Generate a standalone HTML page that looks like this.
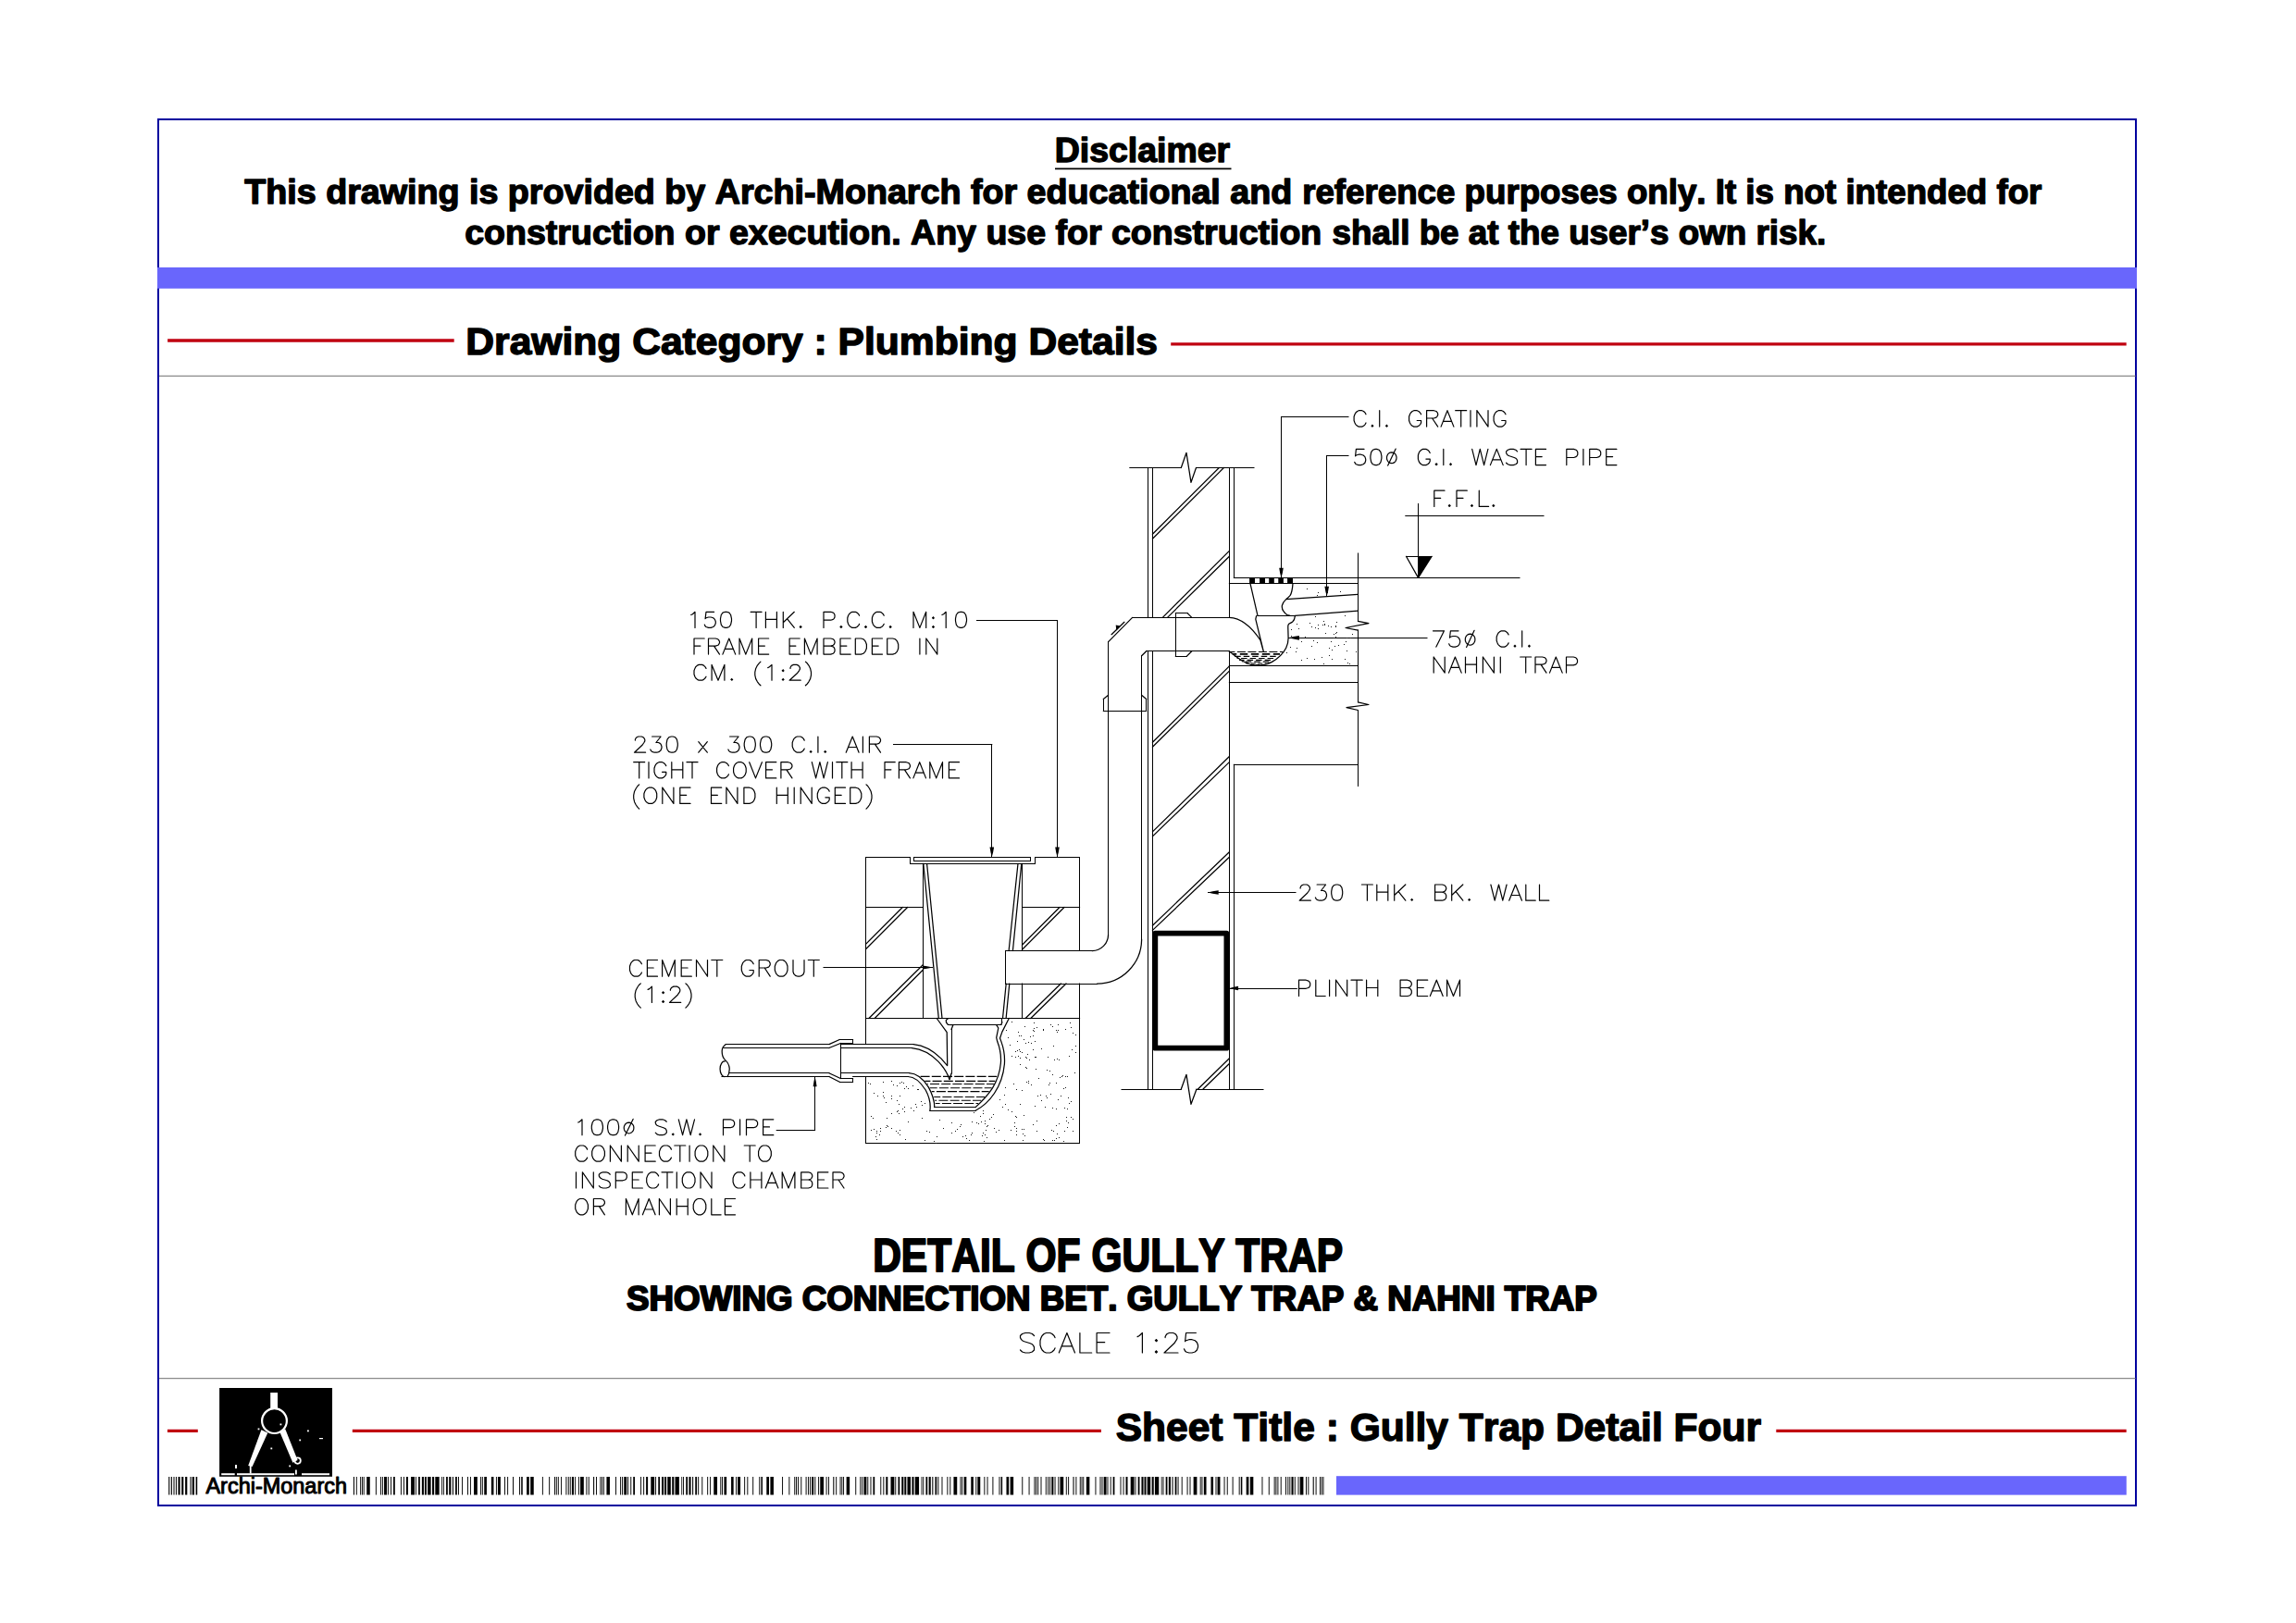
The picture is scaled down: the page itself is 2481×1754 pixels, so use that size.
<!DOCTYPE html>
<html lang="en"><head><meta charset="utf-8"><title>Gully Trap Detail Four</title>
<style>html,body{margin:0;padding:0;background:#fff}body{width:2481px;height:1754px;overflow:hidden;font-family:"Liberation Sans",sans-serif}</style></head>
<body>
<svg width="2481" height="1754" viewBox="0 0 2481 1754" font-family="'Liberation Sans', sans-serif" style="display:block;font-kerning:none">
<rect width="2481" height="1754" fill="#fff"/>
<rect x="171" y="129" width="2137" height="1498" fill="none" stroke="#00009e" stroke-width="2"/>
<rect x="170" y="289" width="2139" height="22.8" fill="#6966fc"/>
<rect x="1444" y="1595.2" width="853.8" height="20.4" fill="#6966fc"/>
<path d="M172 406.4H2307.5M172 1489.6H2307.5" stroke="#8a8a8a" stroke-width="1.1" fill="none"/>
<path d="M181.1 368H490.7M1265.2 371.8H2297.7M180.9 1546.3H213.8M380.8 1546.3H1189.9M1919.3 1546.3H2297.7" stroke="#c00010" stroke-width="3.3" stroke-linecap="butt" fill="none"/>
<text transform="translate(1139.80 175.00) scale(1.0142 1)" font-size="36.91" font-weight="bold" fill="#000" stroke="#000" stroke-width="1.4" stroke-linejoin="round">Disclaimer</text>
<text transform="translate(264.28 220.30) scale(1.0051 1)" font-size="37.48" font-weight="bold" fill="#000" stroke="#000" stroke-width="1.4" stroke-linejoin="round">This drawing is provided by Archi-Monarch for educational and</text>
<text transform="translate(1407.18 220.30) scale(0.9795 1)" font-size="37.48" font-weight="bold" fill="#000" stroke="#000" stroke-width="1.4" stroke-linejoin="round">reference purposes only. It is not intended for</text>
<text transform="translate(502.23 264.30) scale(1.0021 1)" font-size="37.48" font-weight="bold" fill="#000" stroke="#000" stroke-width="1.4" stroke-linejoin="round">construction or execution. Any use for construction</text>
<text transform="translate(1439.61 264.30) scale(0.9819 1)" font-size="37.48" font-weight="bold" fill="#000" stroke="#000" stroke-width="1.4" stroke-linejoin="round">shall be at the user’s own risk.</text>
<text transform="translate(503.35 383.20) scale(1.0485 1)" font-size="40.63" font-weight="bold" fill="#000" stroke="#000" stroke-width="1.4" stroke-linejoin="round">Drawing Category : Plumbing Details</text>
<text transform="translate(943.15 1373.50) scale(0.8633 1)" font-size="49.27" font-weight="bold" fill="#000" stroke="#000" stroke-width="2.0" stroke-linejoin="round">DETAIL OF GULLY TRAP</text>
<text transform="translate(676.94 1415.90) scale(1.0110 1)" font-size="36.34" font-weight="bold" fill="#000" stroke="#000" stroke-width="2.0" stroke-linejoin="round">SHOWING CONNECTION BET. GULLY TRAP &amp; NAHNI TRAP</text>
<text transform="translate(1205.67 1557.10) scale(1.0189 1)" font-size="41.77" font-weight="bold" fill="#000" stroke="#000" stroke-width="1.4" stroke-linejoin="round">Sheet Title : Gully Trap Detail Four</text>
<path d="M1140 182.4H1330.5" stroke="#000" stroke-width="1.6"/>
<text transform="translate(222.45 1614.00) scale(1.0125 1)" font-size="23.18" font-weight="normal" fill="#000" stroke="#000" stroke-width="1.0" stroke-linejoin="round">Archi-Monarch</text>
<rect x="237.1" y="1500" width="121.9" height="95.8" fill="#000"/>
<g fill="#fff" stroke="none">
<rect x="292.2" y="1505" width="7.8" height="17"/>
<polygon points="282.4,1545.2 289.3,1548.4 272.6,1585 268.2,1584"/>
<polygon points="302.3,1547.6 308.3,1544.6 321.6,1578 316.4,1580.8"/>
<rect x="269.8" y="1584" width="1.8" height="8.5"/>
<rect x="319" y="1588.5" width="1.8" height="5"/>
<rect x="239.2" y="1592.2" width="14.5" height="2"/><rect x="256" y="1592.2" width="62" height="2"/><rect x="326" y="1592.2" width="30" height="2"/>
<rect x="302.5" y="1538.5" width="1.8" height="1.8"/>
<rect x="278.6" y="1543.5" width="1.8" height="1.8"/>
<rect x="332" y="1545.5" width="1.8" height="1.8"/>
<rect x="323.3" y="1555.5" width="1.8" height="1.8"/>
<rect x="292.4" y="1564.5" width="1.8" height="1.8"/>
<rect x="312.3" y="1583.5" width="1.8" height="1.8"/>
<rect x="254.2" y="1583.5" width="1.8" height="1.8"/>
<rect x="345" y="1554" width="4" height="1.2"/><rect x="254" y="1583" width="2" height="4"/>
</g>
<circle cx="296.5" cy="1535.6" r="13.4" fill="none" stroke="#fff" stroke-width="2.2"/>
<circle cx="321.6" cy="1578.6" r="3.2" fill="none" stroke="#fff" stroke-width="1.8"/>
<path d="M381.88 1596V1615.5H382.94V1596ZM384.82 1596V1615.5H385.76V1596ZM389.17 1596V1615.5H390.11V1596ZM390.94 1596V1615.5H391.88V1596ZM392.70 1596V1615.5H393.64V1596ZM396.23 1596V1615.5H399.75V1596ZM405.87 1596V1615.5H406.81V1596ZM410.93 1596V1615.5H411.87V1596ZM412.92 1596V1615.5H413.87V1596ZM415.04 1596V1615.5H417.98V1596ZM418.92 1596V1615.5H419.86V1596ZM422.10 1596V1615.5H423.04V1596ZM425.04 1596V1615.5H426.80V1596ZM432.92 1596V1615.5H433.86V1596ZM435.97 1596V1615.5H436.91V1596ZM438.91 1596V1615.5H440.91V1596ZM444.09 1596V1615.5H447.97V1596ZM448.91 1596V1615.5H449.85V1596ZM452.08 1596V1615.5H453.85V1596ZM455.85 1596V1615.5H457.96V1596ZM458.90 1596V1615.5H460.90V1596ZM462.08 1596V1615.5H465.61V1596ZM467.02 1596V1615.5H469.13V1596ZM470.31 1596V1615.5H474.66V1596ZM477.13 1596V1615.5H477.95V1596ZM478.89 1596V1615.5H479.83V1596ZM482.07 1596V1615.5H483.83V1596ZM485.24 1596V1615.5H487.36V1596ZM488.89 1596V1615.5H489.95V1596ZM492.06 1596V1615.5H493.83V1596ZM495.00 1596V1615.5H495.94V1596ZM499.12 1596V1615.5H500.06V1596ZM505.00 1596V1615.5H505.94V1596ZM507.94 1596V1615.5H508.88V1596ZM512.05 1596V1615.5H515.82V1596ZM519.11 1596V1615.5H520.05V1596ZM520.87 1596V1615.5H521.81V1596ZM523.23 1596V1615.5H525.93V1596ZM530.87 1596V1615.5H533.46V1596ZM535.93 1596V1615.5H536.87V1596ZM537.92 1596V1615.5H540.86V1596ZM544.98 1596V1615.5H545.92V1596ZM548.16 1596V1615.5H549.10V1596ZM554.03 1596V1615.5H554.98V1596ZM561.09 1596V1615.5H562.03V1596ZM563.21 1596V1615.5H564.74V1596ZM569.09 1596V1615.5H571.79V1596ZM573.20 1596V1615.5H576.73V1596ZM585.90 1596V1615.5H586.84V1596ZM593.19 1596V1615.5H594.13V1596ZM599.07 1596V1615.5H600.01V1596ZM600.84 1596V1615.5H601.78V1596ZM602.84 1596V1615.5H603.78V1596ZM606.13 1596V1615.5H607.07V1596ZM611.42 1596V1615.5H612.36V1596ZM613.77 1596V1615.5H614.71V1596ZM615.77 1596V1615.5H616.71V1596ZM617.89 1596V1615.5H620.00V1596ZM621.18 1596V1615.5H622.12V1596ZM624.94 1596V1615.5H625.88V1596ZM627.06 1596V1615.5H630.82V1596ZM633.41 1596V1615.5H634.35V1596ZM635.76 1596V1615.5H636.70V1596ZM641.08 1596V1615.5H642.14V1596ZM644.02 1596V1615.5H644.96V1596ZM648.37 1596V1615.5H649.31V1596ZM650.14 1596V1615.5H651.08V1596ZM651.90 1596V1615.5H652.84V1596ZM655.43 1596V1615.5H658.95V1596ZM665.07 1596V1615.5H666.01V1596ZM670.13 1596V1615.5H671.07V1596ZM672.12 1596V1615.5H673.07V1596ZM674.24 1596V1615.5H677.18V1596ZM678.12 1596V1615.5H679.06V1596ZM681.30 1596V1615.5H682.24V1596ZM684.24 1596V1615.5H686.00V1596ZM692.12 1596V1615.5H693.06V1596ZM695.17 1596V1615.5H696.11V1596ZM698.11 1596V1615.5H700.11V1596ZM703.29 1596V1615.5H707.17V1596ZM708.11 1596V1615.5H709.05V1596ZM711.28 1596V1615.5H713.05V1596ZM715.05 1596V1615.5H717.16V1596ZM718.10 1596V1615.5H720.10V1596ZM721.28 1596V1615.5H724.81V1596ZM726.22 1596V1615.5H728.33V1596ZM729.51 1596V1615.5H733.86V1596ZM736.33 1596V1615.5H737.15V1596ZM738.09 1596V1615.5H739.03V1596ZM741.27 1596V1615.5H743.03V1596ZM744.44 1596V1615.5H746.56V1596ZM748.09 1596V1615.5H749.15V1596ZM751.26 1596V1615.5H753.03V1596ZM754.20 1596V1615.5H755.14V1596ZM758.32 1596V1615.5H759.26V1596ZM764.20 1596V1615.5H765.14V1596ZM767.14 1596V1615.5H768.08V1596ZM771.25 1596V1615.5H775.02V1596ZM778.31 1596V1615.5H779.25V1596ZM780.07 1596V1615.5H781.01V1596ZM782.43 1596V1615.5H785.13V1596ZM790.07 1596V1615.5H792.66V1596ZM795.13 1596V1615.5H796.07V1596ZM797.12 1596V1615.5H800.06V1596ZM804.18 1596V1615.5H805.12V1596ZM807.36 1596V1615.5H808.30V1596ZM813.23 1596V1615.5H814.18V1596ZM820.29 1596V1615.5H821.23V1596ZM822.41 1596V1615.5H823.94V1596ZM828.29 1596V1615.5H830.99V1596ZM832.40 1596V1615.5H835.93V1596ZM845.10 1596V1615.5H846.04V1596ZM852.39 1596V1615.5H853.33V1596ZM858.27 1596V1615.5H859.21V1596ZM860.04 1596V1615.5H860.98V1596ZM862.04 1596V1615.5H862.98V1596ZM865.33 1596V1615.5H866.27V1596ZM870.62 1596V1615.5H871.56V1596ZM872.97 1596V1615.5H873.91V1596ZM874.97 1596V1615.5H875.91V1596ZM877.09 1596V1615.5H879.20V1596ZM880.38 1596V1615.5H881.32V1596ZM884.14 1596V1615.5H885.08V1596ZM886.26 1596V1615.5H890.02V1596ZM892.61 1596V1615.5H893.55V1596ZM894.96 1596V1615.5H895.90V1596ZM900.28 1596V1615.5H901.34V1596ZM903.22 1596V1615.5H904.16V1596ZM907.57 1596V1615.5H908.51V1596ZM909.34 1596V1615.5H910.28V1596ZM911.10 1596V1615.5H912.04V1596ZM914.63 1596V1615.5H918.15V1596ZM924.27 1596V1615.5H925.21V1596ZM929.33 1596V1615.5H930.27V1596ZM931.32 1596V1615.5H932.27V1596ZM933.44 1596V1615.5H936.38V1596ZM937.32 1596V1615.5H938.26V1596ZM940.50 1596V1615.5H941.44V1596ZM943.44 1596V1615.5H945.20V1596ZM951.32 1596V1615.5H952.26V1596ZM954.37 1596V1615.5H955.31V1596ZM957.31 1596V1615.5H959.31V1596ZM962.49 1596V1615.5H966.37V1596ZM967.31 1596V1615.5H968.25V1596ZM970.48 1596V1615.5H972.25V1596ZM974.25 1596V1615.5H976.36V1596ZM977.30 1596V1615.5H979.30V1596ZM980.48 1596V1615.5H984.01V1596ZM985.42 1596V1615.5H987.53V1596ZM988.71 1596V1615.5H993.06V1596ZM995.53 1596V1615.5H996.35V1596ZM997.29 1596V1615.5H998.23V1596ZM1000.47 1596V1615.5H1002.23V1596ZM1003.64 1596V1615.5H1005.76V1596ZM1007.29 1596V1615.5H1008.35V1596ZM1010.46 1596V1615.5H1012.23V1596ZM1013.40 1596V1615.5H1014.34V1596ZM1017.52 1596V1615.5H1018.46V1596ZM1023.40 1596V1615.5H1024.34V1596ZM1026.34 1596V1615.5H1027.28V1596ZM1030.45 1596V1615.5H1034.22V1596ZM1037.51 1596V1615.5H1038.45V1596ZM1039.27 1596V1615.5H1040.21V1596ZM1041.63 1596V1615.5H1044.33V1596ZM1049.27 1596V1615.5H1051.86V1596ZM1054.33 1596V1615.5H1055.27V1596ZM1056.32 1596V1615.5H1059.26V1596ZM1063.38 1596V1615.5H1064.32V1596ZM1066.56 1596V1615.5H1067.50V1596ZM1072.43 1596V1615.5H1073.38V1596ZM1079.49 1596V1615.5H1080.43V1596ZM1081.61 1596V1615.5H1083.14V1596ZM1087.49 1596V1615.5H1090.19V1596ZM1091.60 1596V1615.5H1095.13V1596ZM1104.30 1596V1615.5H1105.24V1596ZM1111.59 1596V1615.5H1112.53V1596ZM1117.47 1596V1615.5H1118.41V1596ZM1119.24 1596V1615.5H1120.18V1596ZM1121.24 1596V1615.5H1122.18V1596ZM1124.53 1596V1615.5H1125.47V1596ZM1129.82 1596V1615.5H1130.76V1596ZM1132.17 1596V1615.5H1133.11V1596ZM1134.17 1596V1615.5H1135.11V1596ZM1136.29 1596V1615.5H1138.40V1596ZM1139.58 1596V1615.5H1140.52V1596ZM1143.34 1596V1615.5H1144.28V1596ZM1145.46 1596V1615.5H1149.22V1596ZM1151.81 1596V1615.5H1152.75V1596ZM1154.16 1596V1615.5H1155.10V1596ZM1159.48 1596V1615.5H1160.54V1596ZM1162.42 1596V1615.5H1163.36V1596ZM1166.77 1596V1615.5H1167.71V1596ZM1168.54 1596V1615.5H1169.48V1596ZM1170.30 1596V1615.5H1171.24V1596ZM1173.83 1596V1615.5H1177.35V1596ZM1183.47 1596V1615.5H1184.41V1596ZM1188.53 1596V1615.5H1189.47V1596ZM1190.52 1596V1615.5H1191.47V1596ZM1192.64 1596V1615.5H1195.58V1596ZM1196.52 1596V1615.5H1197.46V1596ZM1199.70 1596V1615.5H1200.64V1596ZM1202.64 1596V1615.5H1204.40V1596ZM1210.52 1596V1615.5H1211.46V1596ZM1213.57 1596V1615.5H1214.51V1596ZM1216.51 1596V1615.5H1218.51V1596ZM1221.69 1596V1615.5H1225.57V1596ZM1226.51 1596V1615.5H1227.45V1596ZM1229.68 1596V1615.5H1231.45V1596ZM1233.45 1596V1615.5H1235.56V1596ZM1236.50 1596V1615.5H1238.50V1596ZM1239.68 1596V1615.5H1243.21V1596ZM1244.62 1596V1615.5H1246.73V1596ZM1247.91 1596V1615.5H1252.26V1596ZM1254.73 1596V1615.5H1255.55V1596ZM1256.49 1596V1615.5H1257.43V1596ZM1259.67 1596V1615.5H1261.43V1596ZM1262.84 1596V1615.5H1264.96V1596ZM1266.49 1596V1615.5H1267.55V1596ZM1269.66 1596V1615.5H1271.43V1596ZM1272.60 1596V1615.5H1273.54V1596ZM1276.72 1596V1615.5H1277.66V1596ZM1282.60 1596V1615.5H1283.54V1596ZM1285.54 1596V1615.5H1286.48V1596ZM1289.65 1596V1615.5H1293.42V1596ZM1296.71 1596V1615.5H1297.65V1596ZM1298.47 1596V1615.5H1299.41V1596ZM1300.83 1596V1615.5H1303.53V1596ZM1308.47 1596V1615.5H1311.06V1596ZM1313.53 1596V1615.5H1314.47V1596ZM1315.52 1596V1615.5H1318.46V1596ZM1322.58 1596V1615.5H1323.52V1596ZM1325.76 1596V1615.5H1326.70V1596ZM1331.63 1596V1615.5H1332.58V1596ZM1338.69 1596V1615.5H1339.63V1596ZM1340.81 1596V1615.5H1342.34V1596ZM1346.69 1596V1615.5H1349.39V1596ZM1350.80 1596V1615.5H1354.33V1596ZM1363.50 1596V1615.5H1364.44V1596ZM1370.79 1596V1615.5H1371.73V1596ZM1376.67 1596V1615.5H1377.61V1596ZM1378.44 1596V1615.5H1379.38V1596ZM1380.44 1596V1615.5H1381.38V1596ZM1383.73 1596V1615.5H1384.67V1596ZM1389.02 1596V1615.5H1389.96V1596ZM1391.37 1596V1615.5H1392.31V1596ZM1393.37 1596V1615.5H1394.31V1596ZM1395.49 1596V1615.5H1397.60V1596ZM1398.78 1596V1615.5H1399.72V1596ZM1402.54 1596V1615.5H1403.48V1596ZM1404.66 1596V1615.5H1408.42V1596ZM1411.01 1596V1615.5H1411.95V1596ZM1413.36 1596V1615.5H1414.30V1596ZM1418.68 1596V1615.5H1419.74V1596ZM1421.62 1596V1615.5H1422.56V1596ZM1425.97 1596V1615.5H1426.91V1596ZM1427.74 1596V1615.5H1428.68V1596ZM1429.50 1596V1615.5H1430.44V1596ZM182.20 1596V1615.5H183.30V1596ZM184.80 1596V1615.5H185.90V1596ZM187.50 1596V1615.5H188.50V1596ZM189.90 1596V1615.5H190.90V1596ZM192.50 1596V1615.5H194.60V1596ZM196.20 1596V1615.5H198.30V1596ZM200.10 1596V1615.5H202.30V1596ZM205.50 1596V1615.5H206.60V1596ZM207.70 1596V1615.5H209.90V1596ZM211.60 1596V1615.5H213.20V1596Z" fill="#000"/>
<g fill="none" stroke="#000" stroke-width="1" stroke-linejoin="round" stroke-linecap="butt">
<path d="M1220.8 505.5H1276.3M1292.5 505.5H1355.0M1212.0 1177.5H1276.3M1293.0 1177.5H1365.0M1240.5 505.5V667.4M1240.5 703.7V1177.0M1245.5 505.5V667.4M1245.5 703.7V1177.0M1328.5 505.5V667.4M1328.5 703.7V1177.0M1333.5 505.5V624.4M1333.5 826.3V1177.0M1333.3 624.5H1642.0M1328.4 630.5H1467.4M1467.5 598.0V671.3M1467.5 681.1V758.8M1467.5 767.5V849.5M1328.4 719.5H1467.4M1328.4 737.5H1467.4M1333.3 826.5H1467.4M1532.5 544.5V624.4M1518.8 557.5H1668.0M1519.5 601.5H1547.0M1457.0 450.5H1384.5M1384.5 450.5V624.0M1457.0 492.5H1433.7M1433.5 492.5V644.0M1542.0 689.5H1392.6M1400.0 964.5H1305.5M1401.3 1068.5H1328.4M1055.5 670.5H1142.5M1142.5 670.5V925.8M965.5 804.5H1071.8M1071.5 804.5V925.8M890.0 1045.5H1007.5M839.2 1221.5H880.6M880.5 1221.3V1164.0M1223.6 667.5H1328.4M1197.5 693.6V1010.0M1180.1 1027.5H1086.7M1086.5 1027.5V1063.0M1086.7 1063.5H1185.6M1233.5 1015.0V708.8M1238.7 703.5H1328.4M1283.1 662.5H1270.3M1270.5 662.6V709.4M1270.3 709.5H1282.2M1192.5 755.6V768.5M1192.3 768.5H1238.7M1238.5 768.5V755.6M1359.0 665.5H1399.4M1328.4 704.5H1385.8M935.5 1128.6V926.5M935.5 926.5H983.5M983.5 926.5V933.5M983.5 933.5H1118.5M1118.5 933.5V926.5M1118.5 926.5H1166.5M1166.5 926.5V1027.5M1166.5 1063.0V1235.5M1166.5 1235.5H935.5M935.5 1235.5V1163.5M987.5 926.5V930.5M987.5 930.5H1113.5M1113.5 930.5V926.5M1113.5 926.5H987.5M935.5 980.5H997.5M1104.5 980.5H1166.6M997.5 933.3V1100.5M1104.5 933.3V1027.5M1104.5 1063.0V1100.5M935.5 1100.5H1166.6M1024.4 1107.5H1081.9M1082.5 1104.5V1100.5M1028.5 1112.5V1160.0M908.5 1128.5H987.1M908.5 1132.5H985.5M908.5 1159.5H982.4M1009.8 1196.5H1054.1M921.6 1163.5H981.3M1004.9 1200.5H1054.1M784.4 1128.5H895.9M907.2 1123.5H921.6M921.5 1123.5V1127.5M921.6 1127.5H908.3M895.9 1132.5H781.8M780.0 1163.5H895.9M907.7 1169.5H921.6M921.5 1169.5V1165.5M921.6 1165.5H908.3M895.9 1159.5H787.9M908.5 1127.6V1165.4" stroke-linecap="square"/>
<path d="M1276.3 505.5L1282.0 489.3L1287.0 521.3L1292.5 505.5M1276.3 1177.0L1282.0 1161.3L1287.0 1193.3L1293.0 1177.0M1245.4 577.2L1317.3 505.5M1245.4 582.3L1322.4 505.5M1256.3 667.4L1328.4 595.4M1261.5 667.4L1328.4 601.2M1328.4 719.9L1245.4 802.3M1328.4 725.1L1245.4 807.3M1328.4 817.5L1245.4 898.9M1328.4 823.6L1245.4 903.9M1328.4 920.8L1245.4 1000.2M1328.4 926.3L1245.4 1005.4M1328.4 1143.8L1294.5 1177.0M1328.4 1149.5L1300.0 1177.0M1467.4 671.3L1478.9 673.6L1454.0 678.5L1467.4 681.1M1467.4 758.8L1478.9 761.5L1455.0 764.6L1467.4 767.5M1547.0 601.3L1532.5 624.4L1519.5 601.3M1328.4 667.4C1342.0 668.0 1354.0 680.0 1362.0 692.0L1365.3 704.0M1223.6 667.4L1197.6 693.6M1197.6 1010.0A17.5 17.5 0 0 1 1180.1 1027.5M1185.6 1063.0A48.0 48.0 0 0 0 1233.6 1015.0M1233.6 708.8L1238.7 703.7M1287.8 667.4L1283.1 662.6M1282.2 709.4L1287.8 703.7M1197.6 751.3L1192.3 755.6M1238.7 755.6L1233.6 751.3M1201.1 685.7L1214.9 672.3M1351.0 630.6L1359.0 665.4M1357.6 665.6L1356.8 669.2L1365.3 704.0M1397.0 630.6C1396.6 636.0 1396.2 640.0 1394.2 643.4C1392.5 645.5 1391.0 646.6 1389.7 647.6C1387.6 649.6 1385.9 651.5 1385.4 654.3C1385.0 657.0 1385.6 659.0 1387.0 660.6C1388.2 662.4 1389.6 663.8 1391.0 664.6L1394.0 665.4M1389.7 647.6L1467.4 642.4M1399.4 665.4L1467.4 660.2M1399.4 665.6C1399.2 668.0 1398.4 670.4 1396.7 672.0C1395.0 673.4 1393.2 673.4 1392.4 674.6C1391.6 675.6 1391.8 677.0 1391.8 678.6L1392.1 689.4C1392.2 695.0 1390.8 698.0 1389.7 700.2C1386.5 706.4 1381.0 711.6 1374.4 715.4C1369.5 717.9 1364.4 719.1 1359.0 719.2C1353.8 719.2 1348.4 717.6 1343.0 714.5C1337.6 711.3 1332.6 707.0 1328.4 704.1M997.8 933.5L1014.3 1100.5M1001.6 933.5L1018.0 1100.5M1100.0 933.3L1090.1 1027.5M1103.8 933.3L1094.4 1027.5M1087.2 1063.0L1083.5 1100.5M1090.8 1063.0L1087.1 1100.5M975.3 980.5L935.5 1020.4M980.6 980.5L935.5 1025.8M997.5 1042.5L938.9 1100.5M997.5 1048.0L945.2 1100.5M1145.0 980.5L1104.5 1021.2M1150.0 980.5L1104.5 1026.3M1146.3 1063.0L1108.1 1100.5M1152.0 1063.0L1113.8 1100.5M1012.2 1100.5L1023.2 1115.7L1023.7 1151.3M1024.4 1100.8L1022.3 1102.4L1022.5 1105.0L1024.4 1107.3M1081.9 1107.3L1082.9 1104.5M1024.4 1107.3L1030.0 1107.6L1028.0 1112.5M1028.0 1160.0L1026.2 1166.5M987.1 1128.6C997.0 1129.6 1007.5 1134.5 1016.9 1143.9L1023.6 1151.6M985.5 1132.6C995.0 1133.6 1005.4 1138.6 1013.8 1147.1C1019.0 1152.6 1023.6 1159.0 1025.9 1166.5M982.4 1159.7C990.0 1160.0 997.0 1165.0 1003.3 1174.9C1007.0 1181.6 1009.8 1189.0 1009.8 1196.6M981.3 1163.5C988.0 1163.6 994.0 1168.4 1000.2 1178.0C1003.8 1184.6 1006.0 1192.0 1004.9 1200.3M1054.1 1196.6C1062.0 1189.5 1068.5 1182.0 1072.5 1175.9C1077.5 1167.5 1080.6 1158.0 1081.4 1148.7C1082.0 1140.0 1080.6 1133.0 1077.7 1125.6L1076.7 1121.4L1078.8 1111.0L1076.7 1107.6M1054.1 1200.3C1063.0 1195.5 1069.5 1189.0 1074.5 1181.5C1080.5 1172.5 1084.4 1161.0 1085.4 1150.0C1086.0 1141.0 1084.8 1133.5 1081.9 1125.6L1080.5 1122.0L1082.9 1115.1L1090.3 1100.5M895.9 1128.6L907.2 1123.5M908.3 1127.5L895.9 1132.5M895.9 1163.5L907.7 1169.5M908.3 1165.5L895.9 1159.7M784.4 1128.6C781.6 1130.6 780.2 1132.4 780.2 1135.6C780.0 1140.0 781.0 1143.0 783.4 1145.4C786.4 1148.0 787.8 1150.6 788.2 1154.4C788.4 1158.0 787.6 1161.0 786.1 1163.5M783.4 1147.0A4.8 8.3 0 1 0 783.4 1163.5" stroke-width="1.25" stroke-linecap="round"/>
<path d="M1147 1163.5h1M1117 1114.5h1M958 1208.5h1M947 1231.5h1M1085 1183.5h1M940 1171.5h1M938 1170.5h1M1073 1204.5h1M1062 1224.5h1M1064 1226.5h1M1109 1169.5h1M1111 1168.5h1M1028 1213.5h1M1154 1213.5h1M1152 1211.5h1M1044 1230.5h1M954 1184.5h1M1012 1228.5h1M1118 1125.5h1M1103 1119.5h1M1157 1207.5h1M1138 1130.5h1M1131 1186.5h1M1162 1130.5h1M1112 1145.5h1M1040 1228.5h1M1067 1216.5h1M972 1221.5h1M1105 1225.5h1M1153 1218.5h1M946 1228.5h1M1097 1136.5h1M977 1196.5h1M975 1198.5h1M1064 1214.5h1M1001 1222.5h1M1019 1219.5h1M1086 1193.5h1M941 1221.5h1M1156 1105.5h1M1009 1233.5h1M1011 1235.5h1M1104 1220.5h1M1097 1206.5h1M1141 1216.5h1M1116 1215.5h1M955 1186.5h1M1137 1197.5h1M1104 1178.5h1M1127 1113.5h1M944 1181.5h1M989 1193.5h1M1076 1223.5h1M1091 1129.5h1M1143 1188.5h1M1139 1145.5h1M1120 1222.5h1M1050 1212.5h1M1098 1226.5h1M1127 1231.5h1M1135 1107.5h1M1117 1105.5h1M1125 1133.5h1M948 1184.5h1M1080 1188.5h1M1155 1192.5h1M1099 1125.5h1M1109 1154.5h1M1143 1113.5h1M1101 1119.5h1M1079 1221.5h1M1066 1217.5h1M1151 1163.5h1M984 1197.5h1M1083 1196.5h1M1141 1230.5h1M1059 1206.5h1M1144 1214.5h1M1062 1203.5h1M943 1208.5h1M941 1206.5h1M1145 1164.5h1M1141 1170.5h1M1037 1217.5h1M1093 1201.5h1M1064 1211.5h1M974 1169.5h1M995 1190.5h1M1135 1182.5h1M969 1173.5h1M947 1222.5h1M1162 1118.5h1M1159 1116.5h1M1148 1162.5h1M1119 1155.5h1M1142 1225.5h1M996 1194.5h1M1101 1134.5h1M1130 1184.5h1M1096 1217.5h1M1098 1219.5h1M1124 1183.5h1M1133 1172.5h1M986 1173.5h1M968 1222.5h1M1074 1219.5h1M1114 1127.5h1M1111 1126.5h1M1102 1136.5h1M1104 1137.5h1M1116 1119.5h1M1093 1104.5h1M1092 1221.5h1M963 1168.5h1M1128 1232.5h1M1153 1163.5h1M1096 1213.5h1M974 1169.5h1M972 1170.5h1M1136 1221.5h1M1110 1139.5h1M1106 1123.5h1M1118 1142.5h1M1139 1232.5h1M1155 1141.5h1M954 1169.5h1M1052 1202.5h1M1055 1213.5h1M1057 1214.5h1M954 1180.5h1M947 1224.5h1M950 1226.5h1M1086 1175.5h1M1100 1141.5h1M1097 1142.5h1M1108 1153.5h1M1107 1109.5h1M1151 1112.5h1M1158 1134.5h1M1150 1197.5h1M1159 1209.5h1M963 1184.5h1M1114 1172.5h1M1153 1198.5h1M963 1219.5h1M999 1192.5h1M1108 1127.5h1M1159 1222.5h1M957 1191.5h1M1127 1112.5h1M1121 1184.5h1M996 1208.5h1M1085 1232.5h1M1062 1200.5h1M959 1217.5h1M957 1218.5h1M1093 1141.5h1M1087 1113.5h1M1102 1193.5h1M1102 1150.5h1M1098 1177.5h1M1150 1222.5h1M1119 1142.5h1M1028 1224.5h1M981 1176.5h1M1060 1212.5h1M977 1201.5h1M1066 1229.5h1M1120 1110.5h1M1116 1113.5h1M1117 1111.5h1M1141 1113.5h1M970 1200.5h1M1111 1170.5h1M1157 1190.5h1M1098 1222.5h1M1125 1189.5h1M1120 1211.5h1M1154 1186.5h1M1098 1207.5h1M1105 1232.5h1M1157 1110.5h1M963 1187.5h1M1143 1107.5h1M990 1196.5h1M1109 1143.5h1M1122 1165.5h1M1138 1222.5h1M1061 1227.5h1M1152 1207.5h1M999 1232.5h1M1118 1195.5h1M1134 1170.5h1M1162 1137.5h1M971 1203.5h1M969 1201.5h1M1100 1115.5h1M1043 1227.5h1M1132 1142.5h1M1032 1222.5h1M1034 1220.5h1M1049 1226.5h1M1063 1233.5h1M969 1189.5h1M1106 1205.5h1M1038 1215.5h1M963 1203.5h1M1129 1196.5h1M972 1184.5h1M1107 1227.5h1M1161 1159.5h1M1015 1210.5h1M971 1193.5h1M1146 1184.5h1M1116 1134.5h1M1099 1135.5h1M1149 1233.5h1M1149 1176.5h1M1151 1175.5h1M1113 1120.5h1M958 1216.5h1M1137 1161.5h1M991 1177.5h1M951 1222.5h1M1106 1220.5h1M970 1224.5h1M972 1226.5h1M992 1177.5h1M979 1174.5h1M977 1176.5h1M978 1231.5h1M1089 1199.5h1M1071 1207.5h1M1069 1209.5h1M976 1170.5h1M1089 1121.5h1M1093 1201.5h1M1047 1232.5h1M1131 1156.5h1M1065 1221.5h1M1142 1144.5h1M1144 1145.5h1M1141 1198.5h1M1108 1142.5h1M1095 1171.5h1M1144 1229.5h1M1134 1157.5h1M987 1200.5h1M1142 1115.5h1M965 1172.5h1M951 1219.5h1M944 1220.5h1M1050 1224.5h1M1004 1223.5h1M981 1212.5h1M1137 1232.5h1M1137 1109.5h1M1102 1143.5h1M1454 693.5h1M1439 712.5h1M1406 693.5h1M1436 700.5h1M1436 708.5h1M1459 689.5h1M1434 640.5h1M1417 677.5h1M1448 639.5h1M1403 679.5h1M1456 716.5h1M1458 717.5h1M1412 711.5h1M1395 680.5h1M1410 688.5h1M1424 675.5h1M1438 677.5h1M1394 699.5h1M1417 698.5h1M1429 675.5h1M1431 675.5h1M1432 684.5h1M1423 694.5h1M1395 687.5h1M1441 685.5h1M1443 684.5h1M1439 702.5h1M1446 697.5h1M1435 676.5h1M1401 674.5h1M1430 671.5h1M1419 692.5h1M1444 683.5h1M1443 677.5h1M1424 640.5h1M1420 712.5h1M1438 693.5h1M1390 705.5h1M1406 713.5h1M1430 717.5h1M1428 710.5h1M1453 712.5h1M1412 636.5h1M1401 700.5h1M1421 666.5h1M1444 672.5h1M1421 678.5h1M1461 685.5h1M1443 676.5h1M1442 698.5h1M1400 704.5h1M1465 704.5h1M1453 665.5h1M1455 689.5h1M1431 674.5h1M1423 643.5h1M1415 673.5h1M1424 679.5h1M1455 703.5h1M1452 696.5h1M1443 688.5h1M1441 689.5h1" stroke-width="1" stroke="#1a1a1a"/>
<rect x="1248.3" y="1008.7" width="77.1" height="124" stroke-width="5.8"/>
<path d="M1476.0 447.8L1475.2 446.2L1473.5 444.5L1471.7 443.7L1468.3 443.7L1466.6 444.5L1464.8 446.2L1464.0 447.8L1463.1 450.3L1463.1 454.5L1464.0 457.0L1464.8 458.6L1466.6 460.3L1468.3 461.1L1471.7 461.1L1473.5 460.3L1475.2 458.6L1476.0 457.0M1482.9 459.5L1482.1 460.3L1482.9 461.1L1483.8 460.3L1482.9 459.5M1490.7 443.7L1490.7 461.1M1498.5 459.5L1497.6 460.3L1498.5 461.1L1499.3 460.3L1498.5 459.5M1535.6 447.8L1534.7 446.2L1533.0 444.5L1531.2 443.7L1527.8 443.7L1526.1 444.5L1524.3 446.2L1523.5 447.8L1522.6 450.3L1522.6 454.5L1523.5 457.0L1524.3 458.6L1526.1 460.3L1527.8 461.1L1531.2 461.1L1533.0 460.3L1534.7 458.6L1535.6 457.0L1535.6 454.5M1531.2 454.5L1535.6 454.5M1541.6 443.7L1541.6 461.1M1541.6 443.7L1549.4 443.7L1552.0 444.5L1552.8 445.3L1553.7 447.0L1553.7 448.6L1552.8 450.3L1552.0 451.1L1549.4 452.0L1541.6 452.0M1547.6 452.0L1553.7 461.1M1564.0 443.7L1557.1 461.1M1564.0 443.7L1570.9 461.1M1559.7 455.3L1568.3 455.3M1578.7 443.7L1578.7 461.1M1572.7 443.7L1584.7 443.7M1589.0 443.7L1589.0 461.1M1595.9 443.7L1595.9 461.1M1595.9 443.7L1608.0 461.1M1608.0 443.7L1608.0 461.1M1627.0 447.8L1626.1 446.2L1624.4 444.5L1622.7 443.7L1619.2 443.7L1617.5 444.5L1615.8 446.2L1614.9 447.8L1614.1 450.3L1614.1 454.5L1614.9 457.0L1615.8 458.6L1617.5 460.3L1619.2 461.1L1622.7 461.1L1624.4 460.3L1626.1 458.6L1627.0 457.0L1627.0 454.5M1622.7 454.5L1627.0 454.5M1474.0 485.4L1465.4 485.4L1464.6 492.8L1465.4 492.0L1468.0 491.2L1470.6 491.2L1473.1 492.0L1474.9 493.6L1475.7 496.1L1475.7 497.7L1474.9 500.2L1473.1 501.8L1470.6 502.6L1468.0 502.6L1465.4 501.8L1464.6 501.0L1463.7 499.4M1486.0 485.4L1483.4 486.3L1481.7 488.7L1480.9 492.8L1480.9 495.3L1481.7 499.4L1483.4 501.8L1486.0 502.6L1487.7 502.6L1490.3 501.8L1492.0 499.4L1492.9 495.3L1492.9 492.8L1492.0 488.7L1490.3 486.3L1487.7 485.4L1486.0 485.4M1509.1 494.7L1508.8 496.6L1508.1 498.3L1506.9 499.6L1505.4 500.4L1503.8 500.7L1502.1 500.4L1500.7 499.6L1499.5 498.3L1498.7 496.6L1498.5 494.7L1498.7 492.9L1499.5 491.2L1500.7 489.9L1502.1 489.1L1503.8 488.8L1505.4 489.1L1506.9 489.9L1508.1 491.2L1508.8 492.9L1509.1 494.7M1499.7 503.1L1508.2 485.0M1545.2 489.5L1544.4 487.9L1542.7 486.3L1540.9 485.4L1537.5 485.4L1535.8 486.3L1534.1 487.9L1533.2 489.5L1532.4 492.0L1532.4 496.1L1533.2 498.6L1534.1 500.2L1535.8 501.8L1537.5 502.6L1540.9 502.6L1542.7 501.8L1544.4 500.2L1545.2 498.6L1545.2 496.1M1540.9 496.1L1545.2 496.1M1552.1 501.0L1551.2 501.8L1552.1 502.6L1553.0 501.8L1552.1 501.0M1559.8 485.4L1559.8 502.6M1567.5 501.0L1566.7 501.8L1567.5 502.6L1568.4 501.8L1567.5 501.0M1590.7 485.4L1595.0 502.6M1599.3 485.4L1595.0 502.6M1599.3 485.4L1603.6 502.6M1607.9 485.4L1603.6 502.6M1617.3 485.4L1610.4 502.6M1617.3 485.4L1624.2 502.6M1613.0 496.9L1621.6 496.9M1639.6 487.9L1637.9 486.3L1635.3 485.4L1631.9 485.4L1629.3 486.3L1627.6 487.9L1627.6 489.5L1628.5 491.2L1629.3 492.0L1631.0 492.8L1636.2 494.5L1637.9 495.3L1638.8 496.1L1639.6 497.7L1639.6 500.2L1637.9 501.8L1635.3 502.6L1631.9 502.6L1629.3 501.8L1627.6 500.2M1649.1 485.4L1649.1 502.6M1643.1 485.4L1655.1 485.4M1659.4 485.4L1659.4 502.6M1659.4 485.4L1670.5 485.4M1659.4 493.6L1666.2 493.6M1659.4 502.6L1670.5 502.6M1692.8 485.4L1692.8 502.6M1692.8 485.4L1700.6 485.4L1703.1 486.3L1704.0 487.1L1704.8 488.7L1704.8 491.2L1704.0 492.8L1703.1 493.6L1700.6 494.5L1692.8 494.5M1710.9 485.4L1710.9 502.6M1717.7 485.4L1717.7 502.6M1717.7 485.4L1725.4 485.4L1728.0 486.3L1728.9 487.1L1729.7 488.7L1729.7 491.2L1728.9 492.8L1728.0 493.6L1725.4 494.5L1717.7 494.5M1735.7 485.4L1735.7 502.6M1735.7 485.4L1746.9 485.4M1735.7 493.6L1742.6 493.6M1735.7 502.6L1746.9 502.6M1549.8 530.2L1549.8 547.4M1549.8 530.2L1561.0 530.2M1549.8 538.3L1556.7 538.3M1566.2 545.7L1565.4 546.5L1566.2 547.4L1567.1 546.5L1566.2 545.7M1574.0 530.2L1574.0 547.4M1574.0 530.2L1585.3 530.2M1574.0 538.3L1581.0 538.3M1590.5 545.7L1589.6 546.5L1590.5 547.4L1591.3 546.5L1590.5 545.7M1598.3 530.2L1598.3 547.4M1598.3 547.4L1608.6 547.4M1613.8 545.7L1613.0 546.5L1613.8 547.4L1614.7 546.5L1613.8 545.7M1560.5 681.8L1551.9 699.1M1548.5 681.8L1560.5 681.8M1576.0 681.8L1567.4 681.8L1566.5 689.2L1567.4 688.3L1570.0 687.5L1572.6 687.5L1575.1 688.3L1576.8 690.0L1577.7 692.5L1577.7 694.1L1576.8 696.6L1575.1 698.2L1572.6 699.1L1570.0 699.1L1567.4 698.2L1566.5 697.4L1565.7 695.8M1593.9 691.1L1593.7 693.0L1592.9 694.6L1591.7 696.0L1590.3 696.8L1588.6 697.1L1587.0 696.8L1585.5 696.0L1584.3 694.6L1583.5 693.0L1583.3 691.1L1583.5 689.2L1584.3 687.6L1585.5 686.2L1587.0 685.4L1588.6 685.1L1590.3 685.4L1591.7 686.2L1592.9 687.6L1593.7 689.2L1593.9 691.1M1584.6 699.5L1593.1 681.3M1630.1 685.9L1629.2 684.2L1627.5 682.6L1625.8 681.8L1622.4 681.8L1620.7 682.6L1618.9 684.2L1618.1 685.9L1617.2 688.3L1617.2 692.5L1618.1 694.9L1618.9 696.6L1620.7 698.2L1622.4 699.1L1625.8 699.1L1627.5 698.2L1629.2 696.6L1630.1 694.9M1637.0 697.4L1636.1 698.2L1637.0 699.1L1637.8 698.2L1637.0 697.4M1644.7 681.8L1644.7 699.1M1652.4 697.4L1651.6 698.2L1652.4 699.1L1653.3 698.2L1652.4 697.4M1549.2 710.0L1549.2 727.1M1549.2 710.0L1561.2 727.1M1561.2 710.0L1561.2 727.1M1572.4 710.0L1565.5 727.1M1572.4 710.0L1579.2 727.1M1568.1 721.4L1576.7 721.4M1583.5 710.0L1583.5 727.1M1595.5 710.0L1595.5 727.1M1583.5 718.1L1595.5 718.1M1602.4 710.0L1602.4 727.1M1602.4 710.0L1614.4 727.1M1614.4 710.0L1614.4 727.1M1621.3 710.0L1621.3 727.1M1648.7 710.0L1648.7 727.1M1642.7 710.0L1654.7 710.0M1659.0 710.0L1659.0 727.1M1659.0 710.0L1666.7 710.0L1669.3 710.8L1670.2 711.6L1671.0 713.2L1671.0 714.8L1670.2 716.5L1669.3 717.3L1666.7 718.1L1659.0 718.1M1665.0 718.1L1671.0 727.1M1681.3 710.0L1674.5 727.1M1681.3 710.0L1688.2 727.1M1677.0 721.4L1685.6 721.4M1692.5 710.0L1692.5 727.1M1692.5 710.0L1700.2 710.0L1702.8 710.8L1703.6 711.6L1704.5 713.2L1704.5 715.7L1703.6 717.3L1702.8 718.1L1700.2 718.9L1692.5 718.9M1405.1 960.1L1405.1 959.2L1405.9 957.6L1406.8 956.8L1408.5 956.0L1412.0 956.0L1413.7 956.8L1414.5 957.6L1415.4 959.2L1415.4 960.9L1414.5 962.5L1412.8 965.0L1404.2 973.2L1416.3 973.2M1423.1 956.0L1432.6 956.0L1427.5 962.5L1430.0 962.5L1431.8 963.4L1432.6 964.2L1433.5 966.7L1433.5 968.3L1432.6 970.8L1430.9 972.4L1428.3 973.2L1425.7 973.2L1423.1 972.4L1422.3 971.6L1421.4 970.0M1443.8 956.0L1441.2 956.8L1439.5 959.2L1438.7 963.4L1438.7 965.8L1439.5 970.0L1441.2 972.4L1443.8 973.2L1445.5 973.2L1448.1 972.4L1449.9 970.0L1450.7 965.8L1450.7 963.4L1449.9 959.2L1448.1 956.8L1445.5 956.0L1443.8 956.0M1477.4 956.0L1477.4 973.2M1471.4 956.0L1483.4 956.0M1487.8 956.0L1487.8 973.2M1499.8 956.0L1499.8 973.2M1487.8 964.2L1499.8 964.2M1506.7 956.0L1506.7 973.2M1518.8 956.0L1506.7 967.5M1511.0 963.4L1518.8 973.2M1525.6 971.6L1524.8 972.4L1525.6 973.2L1526.5 972.4L1525.6 971.6M1550.6 956.0L1550.6 973.2M1550.6 956.0L1558.4 956.0L1561.0 956.8L1561.8 957.6L1562.7 959.2L1562.7 960.9L1561.8 962.5L1561.0 963.4L1558.4 964.2M1550.6 964.2L1558.4 964.2L1561.0 965.0L1561.8 965.8L1562.7 967.5L1562.7 970.0L1561.8 971.6L1561.0 972.4L1558.4 973.2L1550.6 973.2M1568.7 956.0L1568.7 973.2M1580.8 956.0L1568.7 967.5M1573.0 963.4L1580.8 973.2M1587.7 971.6L1586.8 972.4L1587.7 973.2L1588.5 972.4L1587.7 971.6M1610.9 956.0L1615.2 973.2M1619.5 956.0L1615.2 973.2M1619.5 956.0L1623.8 973.2M1628.1 956.0L1623.8 973.2M1637.6 956.0L1630.7 973.2M1637.6 956.0L1644.5 973.2M1633.3 967.5L1641.9 967.5M1648.8 956.0L1648.8 973.2M1648.8 973.2L1659.2 973.2M1663.5 956.0L1663.5 973.2M1663.5 973.2L1673.8 973.2M1403.5 1059.2L1403.5 1076.5M1403.5 1059.2L1411.3 1059.2L1413.9 1060.1L1414.8 1060.9L1415.7 1062.5L1415.7 1065.0L1414.8 1066.7L1413.9 1067.5L1411.3 1068.3L1403.5 1068.3M1421.8 1059.2L1421.8 1076.5M1421.8 1076.5L1432.2 1076.5M1436.6 1059.2L1436.6 1076.5M1443.5 1059.2L1443.5 1076.5M1443.5 1059.2L1455.7 1076.5M1455.7 1059.2L1455.7 1076.5M1466.1 1059.2L1466.1 1076.5M1460.0 1059.2L1472.2 1059.2M1476.6 1059.2L1476.6 1076.5M1488.8 1059.2L1488.8 1076.5M1476.6 1067.5L1488.8 1067.5M1513.1 1059.2L1513.1 1076.5M1513.1 1059.2L1521.0 1059.2L1523.6 1060.1L1524.4 1060.9L1525.3 1062.5L1525.3 1064.2L1524.4 1065.8L1523.6 1066.7L1521.0 1067.5M1513.1 1067.5L1521.0 1067.5L1523.6 1068.3L1524.4 1069.1L1525.3 1070.8L1525.3 1073.3L1524.4 1074.9L1523.6 1075.7L1521.0 1076.5L1513.1 1076.5M1531.4 1059.2L1531.4 1076.5M1531.4 1059.2L1542.7 1059.2M1531.4 1067.5L1538.3 1067.5M1531.4 1076.5L1542.7 1076.5M1552.3 1059.2L1545.3 1076.5M1552.3 1059.2L1559.2 1076.5M1547.9 1070.8L1556.6 1070.8M1563.6 1059.2L1563.6 1076.5M1563.6 1059.2L1570.5 1076.5M1577.5 1059.2L1570.5 1076.5M1577.5 1059.2L1577.5 1076.5M746.7 664.5L748.4 663.7L751.0 661.3L751.0 678.4M771.6 661.3L763.0 661.3L762.1 668.6L763.0 667.8L765.6 667.0L768.2 667.0L770.7 667.8L772.4 669.4L773.3 671.8L773.3 673.5L772.4 675.9L770.7 677.5L768.2 678.4L765.6 678.4L763.0 677.5L762.1 676.7L761.3 675.1M783.6 661.3L781.0 662.1L779.3 664.5L778.5 668.6L778.5 671.0L779.3 675.1L781.0 677.5L783.6 678.4L785.3 678.4L787.9 677.5L789.6 675.1L790.5 671.0L790.5 668.6L789.6 664.5L787.9 662.1L785.3 661.3L783.6 661.3M817.1 661.3L817.1 678.4M811.1 661.3L823.1 661.3M827.4 661.3L827.4 678.4M839.4 661.3L839.4 678.4M827.4 669.4L839.4 669.4M846.3 661.3L846.3 678.4M858.3 661.3L846.3 672.7M850.5 668.6L858.3 678.4M865.1 676.7L864.3 677.5L865.1 678.4L866.0 677.5L865.1 676.7M890.0 661.3L890.0 678.4M890.0 661.3L897.7 661.3L900.3 662.1L901.2 662.9L902.0 664.5L902.0 667.0L901.2 668.6L900.3 669.4L897.7 670.2L890.0 670.2M908.9 676.7L908.0 677.5L908.9 678.4L909.8 677.5L908.9 676.7M928.6 665.3L927.8 663.7L926.1 662.1L924.4 661.3L920.9 661.3L919.2 662.1L917.5 663.7L916.6 665.3L915.8 667.8L915.8 671.8L916.6 674.3L917.5 675.9L919.2 677.5L920.9 678.4L924.4 678.4L926.1 677.5L927.8 675.9L928.6 674.3M935.5 676.7L934.6 677.5L935.5 678.4L936.4 677.5L935.5 676.7M955.2 665.3L954.4 663.7L952.7 662.1L951.0 661.3L947.5 661.3L945.8 662.1L944.1 663.7L943.2 665.3L942.4 667.8L942.4 671.8L943.2 674.3L944.1 675.9L945.8 677.5L947.5 678.4L951.0 678.4L952.7 677.5L954.4 675.9L955.2 674.3M962.1 676.7L961.3 677.5L962.1 678.4L963.0 677.5L962.1 676.7M987.0 661.3L987.0 678.4M987.0 661.3L993.9 678.4M1000.7 661.3L993.9 678.4M1000.7 661.3L1000.7 678.4M1008.5 667.0L1007.6 667.8L1008.5 668.6L1009.3 667.8L1008.5 667.0M1008.5 676.7L1007.6 677.5L1008.5 678.4L1009.3 677.5L1008.5 676.7M1017.9 664.5L1019.6 663.7L1022.2 661.3L1022.2 678.4M1037.6 661.3L1035.1 662.1L1033.3 664.5L1032.5 668.6L1032.5 671.0L1033.3 675.1L1035.1 677.5L1037.6 678.4L1039.4 678.4L1041.9 677.5L1043.6 675.1L1044.5 671.0L1044.5 668.6L1043.6 664.5L1041.9 662.1L1039.4 661.3L1037.6 661.3M750.0 690.0L750.0 707.1M750.0 690.0L761.2 690.0M750.0 698.1L756.9 698.1M765.5 690.0L765.5 707.1M765.5 690.0L773.2 690.0L775.8 690.8L776.6 691.6L777.5 693.2L777.5 694.8L776.6 696.5L775.8 697.3L773.2 698.1L765.5 698.1M771.5 698.1L777.5 707.1M787.8 690.0L780.9 707.1M787.8 690.0L794.7 707.1M783.5 701.4L792.1 701.4M799.0 690.0L799.0 707.1M799.0 690.0L805.8 707.1M812.7 690.0L805.8 707.1M812.7 690.0L812.7 707.1M819.6 690.0L819.6 707.1M819.6 690.0L830.7 690.0M819.6 698.1L826.4 698.1M819.6 707.1L830.7 707.1M853.1 690.0L853.1 707.1M853.1 690.0L864.2 690.0M853.1 698.1L859.9 698.1M853.1 707.1L864.2 707.1M869.4 690.0L869.4 707.1M869.4 690.0L876.2 707.1M883.1 690.0L876.2 707.1M883.1 690.0L883.1 707.1M890.0 690.0L890.0 707.1M890.0 690.0L897.7 690.0L900.3 690.8L901.2 691.6L902.0 693.2L902.0 694.8L901.2 696.5L900.3 697.3L897.7 698.1M890.0 698.1L897.7 698.1L900.3 698.9L901.2 699.7L902.0 701.4L902.0 703.8L901.2 705.4L900.3 706.2L897.7 707.1L890.0 707.1M908.0 690.0L908.0 707.1M908.0 690.0L919.2 690.0M908.0 698.1L914.9 698.1M908.0 707.1L919.2 707.1M924.3 690.0L924.3 707.1M924.3 690.0L930.4 690.0L932.9 690.8L934.6 692.4L935.5 694.0L936.4 696.5L936.4 700.5L935.5 703.0L934.6 704.6L932.9 706.2L930.4 707.1L924.3 707.1M942.4 690.0L942.4 707.1M942.4 690.0L953.5 690.0M942.4 698.1L949.2 698.1M942.4 707.1L953.5 707.1M958.7 690.0L958.7 707.1M958.7 690.0L964.7 690.0L967.3 690.8L969.0 692.4L969.9 694.0L970.7 696.5L970.7 700.5L969.9 703.0L969.0 704.6L967.3 706.2L964.7 707.1L958.7 707.1M993.9 690.0L993.9 707.1M1000.8 690.0L1000.8 707.1M1000.8 690.0L1012.8 707.1M1012.8 690.0L1012.8 707.1M763.0 722.4L762.1 720.8L760.4 719.1L758.7 718.4L755.2 718.4L753.5 719.1L751.7 720.8L750.9 722.4L750.0 724.8L750.0 728.8L750.9 731.2L751.7 732.8L753.5 734.4L755.2 735.2L758.7 735.2L760.4 734.4L762.1 732.8L763.0 731.2M769.1 718.4L769.1 735.2M769.1 718.4L776.0 735.2M782.9 718.4L776.0 735.2M782.9 718.4L782.9 735.2M790.7 733.6L789.9 734.4L790.7 735.2L791.6 734.4L790.7 733.6M821.9 715.1L820.2 716.8L818.4 719.1L816.7 722.4L815.8 726.4L815.8 729.6L816.7 733.6L818.4 736.8L820.2 739.2L821.9 740.8M829.7 721.6L831.4 720.8L834.0 718.4L834.0 735.2M846.2 724.0L845.3 724.8L846.2 725.6L847.0 724.8L846.2 724.0M846.2 733.6L845.3 734.4L846.2 735.2L847.0 734.4L846.2 733.6M854.0 722.4L854.0 721.6L854.8 720.0L855.7 719.1L857.4 718.4L860.9 718.4L862.6 719.1L863.5 720.0L864.4 721.6L864.4 723.1L863.5 724.8L861.8 727.2L853.1 735.2L865.2 735.2M870.4 715.1L872.2 716.8L873.9 719.1L875.6 722.4L876.5 726.4L876.5 729.6L875.6 733.6L873.9 736.8L872.2 739.2L870.4 740.8M686.4 800.1L686.4 799.2L687.2 797.6L688.1 796.8L689.8 796.0L693.3 796.0L695.0 796.8L695.9 797.6L696.8 799.2L696.8 800.9L695.9 802.5L694.2 805.0L685.5 813.2L697.6 813.2M704.6 796.0L714.1 796.0L708.9 802.5L711.5 802.5L713.2 803.4L714.1 804.2L715.0 806.7L715.0 808.3L714.1 810.8L712.4 812.4L709.8 813.2L707.2 813.2L704.6 812.4L703.7 811.6L702.8 810.0M725.4 796.0L722.8 796.8L721.0 799.2L720.2 803.4L720.2 805.8L721.0 810.0L722.8 812.4L725.4 813.2L727.1 813.2L729.7 812.4L731.4 810.0L732.3 805.8L732.3 803.4L731.4 799.2L729.7 796.8L727.1 796.0L725.4 796.0M754.8 801.7L764.3 813.2M764.3 801.7L754.8 813.2M788.6 796.0L798.1 796.0L792.9 802.5L795.5 802.5L797.3 803.4L798.1 804.2L799.0 806.7L799.0 808.3L798.1 810.8L796.4 812.4L793.8 813.2L791.2 813.2L788.6 812.4L787.7 811.6L786.9 810.0M809.4 796.0L806.8 796.8L805.1 799.2L804.2 803.4L804.2 805.8L805.1 810.0L806.8 812.4L809.4 813.2L811.1 813.2L813.7 812.4L815.5 810.0L816.3 805.8L816.3 803.4L815.5 799.2L813.7 796.8L811.1 796.0L809.4 796.0M826.7 796.0L824.1 796.8L822.4 799.2L821.5 803.4L821.5 805.8L822.4 810.0L824.1 812.4L826.7 813.2L828.5 813.2L831.1 812.4L832.8 810.0L833.7 805.8L833.7 803.4L832.8 799.2L831.1 796.8L828.5 796.0L826.7 796.0M869.2 800.1L868.3 798.4L866.6 796.8L864.9 796.0L861.4 796.0L859.7 796.8L857.9 798.4L857.1 800.1L856.2 802.5L856.2 806.7L857.1 809.1L857.9 810.8L859.7 812.4L861.4 813.2L864.9 813.2L866.6 812.4L868.3 810.8L869.2 809.1M876.1 811.6L875.3 812.4L876.1 813.2L877.0 812.4L876.1 811.6M883.9 796.0L883.9 813.2M891.7 811.6L890.8 812.4L891.7 813.2L892.6 812.4L891.7 811.6M921.2 796.0L914.2 813.2M921.2 796.0L928.1 813.2M916.8 807.5L925.5 807.5M932.4 796.0L932.4 813.2M939.4 796.0L939.4 813.2M939.4 796.0L947.2 796.0L949.8 796.8L950.6 797.6L951.5 799.2L951.5 800.9L950.6 802.5L949.8 803.4L947.2 804.2L939.4 804.2M945.4 804.2L951.5 813.2M690.7 823.7L690.7 840.9M684.7 823.7L696.7 823.7M701.0 823.7L701.0 840.9M719.8 827.7L718.9 826.1L717.2 824.5L715.5 823.7L712.1 823.7L710.4 824.5L708.7 826.1L707.8 827.7L707.0 830.2L707.0 834.3L707.8 836.8L708.7 838.4L710.4 840.0L712.1 840.9L715.5 840.9L717.2 840.0L718.9 838.4L719.8 836.8L719.8 834.3M715.5 834.3L719.8 834.3M725.8 823.7L725.8 840.9M737.8 823.7L737.8 840.9M725.8 831.8L737.8 831.8M748.0 823.7L748.0 840.9M742.0 823.7L754.0 823.7M787.4 827.7L786.6 826.1L784.8 824.5L783.1 823.7L779.7 823.7L778.0 824.5L776.3 826.1L775.4 827.7L774.6 830.2L774.6 834.3L775.4 836.8L776.3 838.4L778.0 840.0L779.7 840.9L783.1 840.9L784.8 840.0L786.6 838.4L787.4 836.8M797.7 823.7L796.0 824.5L794.3 826.1L793.4 827.7L792.6 830.2L792.6 834.3L793.4 836.8L794.3 838.4L796.0 840.0L797.7 840.9L801.1 840.9L802.8 840.0L804.5 838.4L805.4 836.8L806.2 834.3L806.2 830.2L805.4 827.7L804.5 826.1L802.8 824.5L801.1 823.7L797.7 823.7M809.7 823.7L816.5 840.9M823.4 823.7L816.5 840.9M827.6 823.7L827.6 840.9M827.6 823.7L838.8 823.7M827.6 831.8L834.5 831.8M827.6 840.9L838.8 840.9M843.9 823.7L843.9 840.9M843.9 823.7L851.6 823.7L854.2 824.5L855.0 825.3L855.9 826.9L855.9 828.6L855.0 830.2L854.2 831.0L851.6 831.8L843.9 831.8M849.9 831.8L855.9 840.9M877.3 823.7L881.6 840.9M885.9 823.7L881.6 840.9M885.9 823.7L890.1 840.9M894.4 823.7L890.1 840.9M899.5 823.7L899.5 840.9M909.8 823.7L909.8 840.9M903.8 823.7L915.8 823.7M920.1 823.7L920.1 840.9M932.1 823.7L932.1 840.9M920.1 831.8L932.1 831.8M956.0 823.7L956.0 840.9M956.0 823.7L967.2 823.7M956.0 831.8L962.9 831.8M971.4 823.7L971.4 840.9M971.4 823.7L979.2 823.7L981.7 824.5L982.6 825.3L983.4 826.9L983.4 828.6L982.6 830.2L981.7 831.0L979.2 831.8L971.4 831.8M977.4 831.8L983.4 840.9M993.7 823.7L986.9 840.9M993.7 823.7L1000.5 840.9M989.4 835.1L998.0 835.1M1004.8 823.7L1004.8 840.9M1004.8 823.7L1011.7 840.9M1018.5 823.7L1011.7 840.9M1018.5 823.7L1018.5 840.9M1025.4 823.7L1025.4 840.9M1025.4 823.7L1036.5 823.7M1025.4 831.8L1032.2 831.8M1025.4 840.9L1036.5 840.9M690.7 847.9L689.0 849.5L687.3 852.0L685.6 855.2L684.7 859.3L684.7 862.6L685.6 866.7L687.3 870.0L689.0 872.4L690.7 874.1M701.1 851.2L699.4 852.0L697.7 853.6L696.8 855.2L695.9 857.7L695.9 861.8L696.8 864.3L697.7 865.9L699.4 867.5L701.1 868.4L704.6 868.4L706.3 867.5L708.0 865.9L708.9 864.3L709.7 861.8L709.7 857.7L708.9 855.2L708.0 853.6L706.3 852.0L704.6 851.2L701.1 851.2M715.8 851.2L715.8 868.4M715.8 851.2L727.9 868.4M727.9 851.2L727.9 868.4M734.8 851.2L734.8 868.4M734.8 851.2L746.0 851.2M734.8 859.3L741.7 859.3M734.8 868.4L746.0 868.4M768.5 851.2L768.5 868.4M768.5 851.2L779.7 851.2M768.5 859.3L775.4 859.3M768.5 868.4L779.7 868.4M784.9 851.2L784.9 868.4M784.9 851.2L796.9 868.4M796.9 851.2L796.9 868.4M803.9 851.2L803.9 868.4M803.9 851.2L809.9 851.2L812.5 852.0L814.2 853.6L815.1 855.2L815.9 857.7L815.9 861.8L815.1 864.3L814.2 865.9L812.5 867.5L809.9 868.4L803.9 868.4M839.3 851.2L839.3 868.4M851.3 851.2L851.3 868.4M839.3 859.3L851.3 859.3M858.2 851.2L858.2 868.4M865.2 851.2L865.2 868.4M865.2 851.2L877.2 868.4M877.2 851.2L877.2 868.4M896.2 855.2L895.4 853.6L893.6 852.0L891.9 851.2L888.5 851.2L886.7 852.0L885.0 853.6L884.2 855.2L883.3 857.7L883.3 861.8L884.2 864.3L885.0 865.9L886.7 867.5L888.5 868.4L891.9 868.4L893.6 867.5L895.4 865.9L896.2 864.3L896.2 861.8M891.9 861.8L896.2 861.8M902.3 851.2L902.3 868.4M902.3 851.2L913.5 851.2M902.3 859.3L909.2 859.3M902.3 868.4L913.5 868.4M918.7 851.2L918.7 868.4M918.7 851.2L924.7 851.2L927.3 852.0L929.0 853.6L929.9 855.2L930.8 857.7L930.8 861.8L929.9 864.3L929.0 865.9L927.3 867.5L924.7 868.4L918.7 868.4M936.0 847.9L937.7 849.5L939.4 852.0L941.1 855.2L942.0 859.3L942.0 862.6L941.1 866.7L939.4 870.0L937.7 872.4L936.0 874.1M693.4 1041.8L692.5 1040.1L690.8 1038.4L689.1 1037.5L685.6 1037.5L683.9 1038.4L682.2 1040.1L681.4 1041.8L680.5 1044.3L680.5 1048.5L681.4 1051.0L682.2 1052.7L683.9 1054.4L685.6 1055.2L689.1 1055.2L690.8 1054.4L692.5 1052.7L693.4 1051.0M699.4 1037.5L699.4 1055.2M699.4 1037.5L710.5 1037.5M699.4 1046.0L706.2 1046.0M699.4 1055.2L710.5 1055.2M715.6 1037.5L715.6 1055.2M715.6 1037.5L722.5 1055.2M729.3 1037.5L722.5 1055.2M729.3 1037.5L729.3 1055.2M736.2 1037.5L736.2 1055.2M736.2 1037.5L747.3 1037.5M736.2 1046.0L743.1 1046.0M736.2 1055.2L747.3 1055.2M752.5 1037.5L752.5 1055.2M752.5 1037.5L764.5 1055.2M764.5 1037.5L764.5 1055.2M774.8 1037.5L774.8 1055.2M768.8 1037.5L780.8 1037.5M814.2 1041.8L813.3 1040.1L811.6 1038.4L809.9 1037.5L806.5 1037.5L804.8 1038.4L803.0 1040.1L802.2 1041.8L801.3 1044.3L801.3 1048.5L802.2 1051.0L803.0 1052.7L804.8 1054.4L806.5 1055.2L809.9 1055.2L811.6 1054.4L813.3 1052.7L814.2 1051.0L814.2 1048.5M809.9 1048.5L814.2 1048.5M820.2 1037.5L820.2 1055.2M820.2 1037.5L827.9 1037.5L830.5 1038.4L831.3 1039.2L832.2 1040.9L832.2 1042.6L831.3 1044.3L830.5 1045.1L827.9 1046.0L820.2 1046.0M826.2 1046.0L832.2 1055.2M842.5 1037.5L840.7 1038.4L839.0 1040.1L838.2 1041.8L837.3 1044.3L837.3 1048.5L838.2 1051.0L839.0 1052.7L840.7 1054.4L842.5 1055.2L845.9 1055.2L847.6 1054.4L849.3 1052.7L850.2 1051.0L851.0 1048.5L851.0 1044.3L850.2 1041.8L849.3 1040.1L847.6 1038.4L845.9 1037.5L842.5 1037.5M857.0 1037.5L857.0 1050.2L857.9 1052.7L859.6 1054.4L862.2 1055.2L863.9 1055.2L866.4 1054.4L868.2 1052.7L869.0 1050.2L869.0 1037.5M879.3 1037.5L879.3 1055.2M873.3 1037.5L885.3 1037.5M692.3 1062.9L690.5 1064.5L688.8 1067.0L687.1 1070.2L686.2 1074.3L686.2 1077.6L687.1 1081.7L688.8 1085.0L690.5 1087.4L692.3 1089.1M700.1 1069.4L701.8 1068.6L704.4 1066.1L704.4 1083.4M716.6 1071.9L715.7 1072.7L716.6 1073.5L717.5 1072.7L716.6 1071.9M716.6 1081.7L715.7 1082.5L716.6 1083.4L717.5 1082.5L716.6 1081.7M724.4 1070.2L724.4 1069.4L725.3 1067.8L726.2 1067.0L727.9 1066.1L731.4 1066.1L733.1 1067.0L734.0 1067.8L734.8 1069.4L734.8 1071.1L734.0 1072.7L732.2 1075.2L723.5 1083.4L735.7 1083.4M740.9 1062.9L742.7 1064.5L744.4 1067.0L746.1 1070.2L747.0 1074.3L747.0 1077.6L746.1 1081.7L744.4 1085.0L742.7 1087.4L740.9 1089.1M624.7 1213.0L626.4 1212.2L629.0 1209.8L629.0 1226.7M644.5 1209.8L641.9 1210.7L640.2 1213.0L639.3 1217.0L639.3 1219.5L640.2 1223.5L641.9 1225.9L644.5 1226.7L646.2 1226.7L648.8 1225.9L650.5 1223.5L651.4 1219.5L651.4 1217.0L650.5 1213.0L648.8 1210.7L646.2 1209.8L644.5 1209.8M661.8 1209.8L659.2 1210.7L657.4 1213.0L656.6 1217.0L656.6 1219.5L657.4 1223.5L659.2 1225.9L661.8 1226.7L663.5 1226.7L666.1 1225.9L667.8 1223.5L668.6 1219.5L668.6 1217.0L667.8 1213.0L666.1 1210.7L663.5 1209.8L661.8 1209.8M684.9 1218.9L684.7 1220.7L683.9 1222.4L682.7 1223.7L681.2 1224.5L679.6 1224.8L677.9 1224.5L676.4 1223.7L675.3 1222.4L674.5 1220.7L674.2 1218.9L674.5 1217.1L675.3 1215.5L676.4 1214.2L677.9 1213.4L679.6 1213.1L681.2 1213.4L682.7 1214.2L683.9 1215.5L684.7 1217.1L684.9 1218.9M675.5 1227.1L684.1 1209.4M720.3 1212.2L718.6 1210.7L716.0 1209.8L712.6 1209.8L710.0 1210.7L708.3 1212.2L708.3 1213.8L709.1 1215.5L710.0 1216.2L711.7 1217.0L716.9 1218.7L718.6 1219.5L719.5 1220.2L720.3 1221.9L720.3 1224.2L718.6 1225.9L716.0 1226.7L712.6 1226.7L710.0 1225.9L708.3 1224.2M727.2 1225.1L726.4 1225.9L727.2 1226.7L728.1 1225.9L727.2 1225.1M733.3 1209.8L737.6 1226.7M741.9 1209.8L737.6 1226.7M741.9 1209.8L746.2 1226.7M750.5 1209.8L746.2 1226.7M756.5 1225.1L755.7 1225.9L756.5 1226.7L757.4 1225.9L756.5 1225.1M781.5 1209.8L781.5 1226.7M781.5 1209.8L789.3 1209.8L791.9 1210.7L792.7 1211.5L793.6 1213.0L793.6 1215.5L792.7 1217.0L791.9 1217.9L789.3 1218.7L781.5 1218.7M799.6 1209.8L799.6 1226.7M806.5 1209.8L806.5 1226.7M806.5 1209.8L814.3 1209.8L816.8 1210.7L817.7 1211.5L818.6 1213.0L818.6 1215.5L817.7 1217.0L816.8 1217.9L814.3 1218.7L806.5 1218.7M824.6 1209.8L824.6 1226.7M824.6 1209.8L835.8 1209.8M824.6 1217.9L831.5 1217.9M824.6 1226.7L835.8 1226.7M634.6 1242.1L633.7 1240.4L632.0 1238.8L630.3 1238.0L626.8 1238.0L625.1 1238.8L623.4 1240.4L622.6 1242.1L621.7 1244.5L621.7 1248.7L622.6 1251.1L623.4 1252.8L625.1 1254.4L626.8 1255.2L630.3 1255.2L632.0 1254.4L633.7 1252.8L634.6 1251.1M644.8 1238.0L643.1 1238.8L641.4 1240.4L640.5 1242.1L639.7 1244.5L639.7 1248.7L640.5 1251.1L641.4 1252.8L643.1 1254.4L644.8 1255.2L648.3 1255.2L650.0 1254.4L651.7 1252.8L652.5 1251.1L653.4 1248.7L653.4 1244.5L652.5 1242.1L651.7 1240.4L650.0 1238.8L648.3 1238.0L644.8 1238.0M659.4 1238.0L659.4 1255.2M659.4 1238.0L671.4 1255.2M671.4 1238.0L671.4 1255.2M678.2 1238.0L678.2 1255.2M678.2 1238.0L690.2 1255.2M690.2 1238.0L690.2 1255.2M697.1 1238.0L697.1 1255.2M697.1 1238.0L708.2 1238.0M697.1 1246.2L703.9 1246.2M697.1 1255.2L708.2 1255.2M725.4 1242.1L724.5 1240.4L722.8 1238.8L721.1 1238.0L717.6 1238.0L715.9 1238.8L714.2 1240.4L713.4 1242.1L712.5 1244.5L712.5 1248.7L713.4 1251.1L714.2 1252.8L715.9 1254.4L717.6 1255.2L721.1 1255.2L722.8 1254.4L724.5 1252.8L725.4 1251.1M734.8 1238.0L734.8 1255.2M728.8 1238.0L740.8 1238.0M745.1 1238.0L745.1 1255.2M756.2 1238.0L754.5 1238.8L752.8 1240.4L751.9 1242.1L751.1 1244.5L751.1 1248.7L751.9 1251.1L752.8 1252.8L754.5 1254.4L756.2 1255.2L759.6 1255.2L761.3 1254.4L763.1 1252.8L763.9 1251.1L764.8 1248.7L764.8 1244.5L763.9 1242.1L763.1 1240.4L761.3 1238.8L759.6 1238.0L756.2 1238.0M770.8 1238.0L770.8 1255.2M770.8 1238.0L782.8 1255.2M782.8 1238.0L782.8 1255.2M810.2 1238.0L810.2 1255.2M804.2 1238.0L816.2 1238.0M824.7 1238.0L823.0 1238.8L821.3 1240.4L820.4 1242.1L819.6 1244.5L819.6 1248.7L820.4 1251.1L821.3 1252.8L823.0 1254.4L824.7 1255.2L828.2 1255.2L829.9 1254.4L831.6 1252.8L832.4 1251.1L833.3 1248.7L833.3 1244.5L832.4 1242.1L831.6 1240.4L829.9 1238.8L828.2 1238.0L824.7 1238.0M622.5 1266.8L622.5 1284.0M629.4 1266.8L629.4 1284.0M629.4 1266.8L641.3 1284.0M641.3 1266.8L641.3 1284.0M659.3 1269.2L657.6 1267.6L655.0 1266.8L651.6 1266.8L649.1 1267.6L647.3 1269.2L647.3 1270.9L648.2 1272.5L649.1 1273.3L650.8 1274.2L655.9 1275.8L657.6 1276.6L658.5 1277.5L659.3 1279.1L659.3 1281.6L657.6 1283.2L655.0 1284.0L651.6 1284.0L649.1 1283.2L647.3 1281.6M665.3 1266.8L665.3 1284.0M665.3 1266.8L673.0 1266.8L675.6 1267.6L676.5 1268.4L677.3 1270.0L677.3 1272.5L676.5 1274.2L675.6 1275.0L673.0 1275.8L665.3 1275.8M683.3 1266.8L683.3 1284.0M683.3 1266.8L694.4 1266.8M683.3 1275.0L690.2 1275.0M683.3 1284.0L694.4 1284.0M711.6 1270.9L710.7 1269.2L709.0 1267.6L707.3 1266.8L703.9 1266.8L702.2 1267.6L700.4 1269.2L699.6 1270.9L698.7 1273.3L698.7 1277.5L699.6 1279.9L700.4 1281.6L702.2 1283.2L703.9 1284.0L707.3 1284.0L709.0 1283.2L710.7 1281.6L711.6 1279.9M721.0 1266.8L721.0 1284.0M715.0 1266.8L727.0 1266.8M731.3 1266.8L731.3 1284.0M742.4 1266.8L740.7 1267.6L739.0 1269.2L738.1 1270.9L737.3 1273.3L737.3 1277.5L738.1 1279.9L739.0 1281.6L740.7 1283.2L742.4 1284.0L745.8 1284.0L747.6 1283.2L749.3 1281.6L750.1 1279.9L751.0 1277.5L751.0 1273.3L750.1 1270.9L749.3 1269.2L747.6 1267.6L745.8 1266.8L742.4 1266.8M757.0 1266.8L757.0 1284.0M757.0 1266.8L769.0 1284.0M769.0 1266.8L769.0 1284.0M804.9 1270.9L804.1 1269.2L802.4 1267.6L800.7 1266.8L797.2 1266.8L795.5 1267.6L793.8 1269.2L792.9 1270.9L792.1 1273.3L792.1 1277.5L792.9 1279.9L793.8 1281.6L795.5 1283.2L797.2 1284.0L800.7 1284.0L802.4 1283.2L804.1 1281.6L804.9 1279.9M810.9 1266.8L810.9 1284.0M822.9 1266.8L822.9 1284.0M810.9 1275.0L822.9 1275.0M834.1 1266.8L827.2 1284.0M834.1 1266.8L840.9 1284.0M829.8 1278.3L838.3 1278.3M845.2 1266.8L845.2 1284.0M845.2 1266.8L852.0 1284.0M858.9 1266.8L852.0 1284.0M858.9 1266.8L858.9 1284.0M865.7 1266.8L865.7 1284.0M865.7 1266.8L873.5 1266.8L876.0 1267.6L876.9 1268.4L877.7 1270.0L877.7 1271.7L876.9 1273.3L876.0 1274.2L873.5 1275.0M865.7 1275.0L873.5 1275.0L876.0 1275.8L876.9 1276.6L877.7 1278.3L877.7 1280.8L876.9 1282.4L876.0 1283.2L873.5 1284.0L865.7 1284.0M883.7 1266.8L883.7 1284.0M883.7 1266.8L894.9 1266.8M883.7 1275.0L890.6 1275.0M883.7 1284.0L894.9 1284.0M900.0 1266.8L900.0 1284.0M900.0 1266.8L907.7 1266.8L910.3 1267.6L911.1 1268.4L912.0 1270.0L912.0 1271.7L911.1 1273.3L910.3 1274.2L907.7 1275.0L900.0 1275.0M906.0 1275.0L912.0 1284.0M626.8 1295.5L625.1 1296.3L623.4 1297.9L622.6 1299.6L621.7 1302.0L621.7 1306.2L622.6 1308.6L623.4 1310.3L625.1 1311.9L626.8 1312.8L630.3 1312.8L632.0 1311.9L633.7 1310.3L634.5 1308.6L635.4 1306.2L635.4 1302.0L634.5 1299.6L633.7 1297.9L632.0 1296.3L630.3 1295.5L626.8 1295.5M641.4 1295.5L641.4 1312.8M641.4 1295.5L649.1 1295.5L651.6 1296.3L652.5 1297.1L653.4 1298.7L653.4 1300.4L652.5 1302.0L651.6 1302.9L649.1 1303.7L641.4 1303.7M647.4 1303.7L653.4 1312.8M676.4 1295.5L676.4 1312.8M676.4 1295.5L683.3 1312.8M690.1 1295.5L683.3 1312.8M690.1 1295.5L690.1 1312.8M701.3 1295.5L694.4 1312.8M701.3 1295.5L708.1 1312.8M697.0 1307.0L705.5 1307.0M712.4 1295.5L712.4 1312.8M712.4 1295.5L724.4 1312.8M724.4 1295.5L724.4 1312.8M731.2 1295.5L731.2 1312.8M743.2 1295.5L743.2 1312.8M731.2 1303.7L743.2 1303.7M754.3 1295.5L752.6 1296.3L750.9 1297.9L750.0 1299.6L749.2 1302.0L749.2 1306.2L750.0 1308.6L750.9 1310.3L752.6 1311.9L754.3 1312.8L757.7 1312.8L759.4 1311.9L761.1 1310.3L762.0 1308.6L762.8 1306.2L762.8 1302.0L762.0 1299.6L761.1 1297.9L759.4 1296.3L757.7 1295.5L754.3 1295.5M768.8 1295.5L768.8 1312.8M768.8 1312.8L779.1 1312.8M783.4 1295.5L783.4 1312.8M783.4 1295.5L794.5 1295.5M783.4 1303.7L790.2 1303.7M783.4 1312.8L794.5 1312.8M1117.5 1443.5L1115.4 1441.5L1112.2 1440.5L1107.9 1440.5L1104.6 1441.5L1102.5 1443.5L1102.5 1445.6L1103.6 1447.7L1104.6 1448.7L1106.8 1449.7L1113.2 1451.8L1115.4 1452.8L1116.4 1453.8L1117.5 1455.9L1117.5 1459.0L1115.4 1461.0L1112.2 1462.0L1107.9 1462.0L1104.6 1461.0L1102.5 1459.0M1140.0 1445.6L1139.0 1443.5L1136.8 1441.5L1134.7 1440.5L1130.4 1440.5L1128.2 1441.5L1126.1 1443.5L1125.0 1445.6L1124.0 1448.7L1124.0 1453.8L1125.0 1456.9L1126.1 1459.0L1128.2 1461.0L1130.4 1462.0L1134.7 1462.0L1136.8 1461.0L1139.0 1459.0L1140.0 1456.9M1152.9 1440.5L1144.3 1462.0M1152.9 1440.5L1161.5 1462.0M1147.6 1454.8L1158.3 1454.8M1166.9 1440.5L1166.9 1462.0M1166.9 1462.0L1179.7 1462.0M1185.1 1440.5L1185.1 1462.0M1185.1 1440.5L1199.0 1440.5M1185.1 1450.7L1193.7 1450.7M1185.1 1462.0L1199.0 1462.0M1229.1 1444.6L1231.2 1443.5L1234.4 1440.5L1234.4 1462.0M1249.4 1447.7L1248.4 1448.7L1249.4 1449.7L1250.5 1448.7L1249.4 1447.7M1249.4 1460.0L1248.4 1461.0L1249.4 1462.0L1250.5 1461.0L1249.4 1460.0M1259.1 1445.6L1259.1 1444.6L1260.2 1442.5L1261.2 1441.5L1263.4 1440.5L1267.7 1440.5L1269.8 1441.5L1270.9 1442.5L1272.0 1444.6L1272.0 1446.6L1270.9 1448.7L1268.8 1451.8L1258.0 1462.0L1273.0 1462.0M1292.4 1440.5L1281.6 1440.5L1280.6 1449.7L1281.6 1448.7L1284.8 1447.7L1288.1 1447.7L1291.3 1448.7L1293.4 1450.7L1294.5 1453.8L1294.5 1455.9L1293.4 1459.0L1291.3 1461.0L1288.1 1462.0L1284.8 1462.0L1281.6 1461.0L1280.6 1460.0L1279.5 1457.9" stroke-width="1.2" stroke-linejoin="round" stroke-linecap="round"/>
</g>
<path d="M1350.1 624.4H1356.0V630.6H1350.1ZM1361.1 624.4H1367.0V630.6H1361.1ZM1371.2 624.4H1376.8V630.6H1371.2ZM1381.3 624.4H1386.9V630.6H1381.3ZM1391.1 624.4H1397.0V630.6H1391.1ZM1532.5 601.3H1547L1532.5 624.4ZM1384.5 624.2L1383.2 619.5L1382.2 613.7L1386.8 613.7L1385.8 619.5ZM1433.7 644.2L1432.4 639.5L1431.4 633.7L1436.0 633.7L1435.0 639.5ZM1392.4 689.3L1397.6 688.0L1403.9 686.9L1403.9 691.7L1397.6 690.6ZM1305.2 964.5L1310.4 963.3L1316.7 962.3L1316.7 966.7L1310.4 965.7ZM1328.6 1068.0L1332.9 1066.8L1338.1 1065.8L1338.1 1070.2L1332.9 1069.2ZM1142.5 926.0L1141.2 921.3L1140.2 915.5L1144.8 915.5L1143.8 921.3ZM1071.8 926.0L1070.5 921.3L1069.5 915.5L1074.1 915.5L1073.1 921.3ZM1007.7 1045.5L1003.0 1046.6L997.2 1047.5L997.2 1043.5L1003.0 1044.4ZM880.6 1163.8L881.7 1168.5L882.6 1174.3L878.6 1174.3L879.5 1168.5ZM1205.7 675.5L1210.9 676.4L1206.3 681.4Z" fill="#000"/>
<path d="M1331.8 706.9H1383.1" stroke="#000" stroke-width="1.9" stroke-dasharray="8.5 3.5" stroke-dashoffset="4" fill="none"/>
<path d="M1334.2 709.4H1380.7" stroke="#000" stroke-width="1.2" stroke-dasharray="6.5 3" stroke-dashoffset="0" fill="none"/>
<path d="M1336.6 711.5H1378.3" stroke="#000" stroke-width="1.2" stroke-dasharray="6.5 3" stroke-dashoffset="5" fill="none"/>
<path d="M1339.1 713.3H1375.8" stroke="#000" stroke-width="1.2" stroke-dasharray="6.5 3" stroke-dashoffset="1" fill="none"/>
<path d="M1342.3 715.2H1372.6" stroke="#000" stroke-width="1.2" stroke-dasharray="6.5 3" stroke-dashoffset="6" fill="none"/>
<path d="M1346.3 717.0H1368.6" stroke="#000" stroke-width="1.2" stroke-dasharray="5 2.5" stroke-dashoffset="2" fill="none"/>
<path d="M1351.2 718.4H1363.7" stroke="#000" stroke-width="1.0" stroke-dasharray="4 2" stroke-dashoffset="0" fill="none"/>
<path d="M1328.4 704.1H1385.8" stroke="#fff" stroke-width="1.6" stroke-dasharray="2.5 9" stroke-dashoffset="-6" fill="none"/>
<path d="M994.6 1163.4H1077.2" stroke="#000" stroke-width="1.1" stroke-dasharray="10 2.2" stroke-dashoffset="0" fill="none"/>
<path d="M999.4 1168.4H1075.4" stroke="#000" stroke-width="1.1" stroke-dasharray="10 2.2" stroke-dashoffset="4" fill="none"/>
<path d="M1001.8 1171.5H1073.9" stroke="#000" stroke-width="1.1" stroke-dasharray="10 2.2" stroke-dashoffset="9" fill="none"/>
<path d="M1004.7 1175.7H1071.7" stroke="#000" stroke-width="1.1" stroke-dasharray="10 2.2" stroke-dashoffset="2" fill="none"/>
<path d="M1006.7 1179.6H1068.7" stroke="#000" stroke-width="1.1" stroke-dasharray="10 2.2" stroke-dashoffset="7" fill="none"/>
<path d="M1009.2 1185.5H1064.0" stroke="#000" stroke-width="1.1" stroke-dasharray="10 2.2" stroke-dashoffset="3" fill="none"/>
<path d="M1010.2 1189.3H1060.3" stroke="#000" stroke-width="1.1" stroke-dasharray="10 2.2" stroke-dashoffset="8" fill="none"/>
<path d="M1010.7 1192.5H1057.2" stroke="#000" stroke-width="1.1" stroke-dasharray="10 2.2" stroke-dashoffset="5" fill="none"/>
</svg>
</body></html>
